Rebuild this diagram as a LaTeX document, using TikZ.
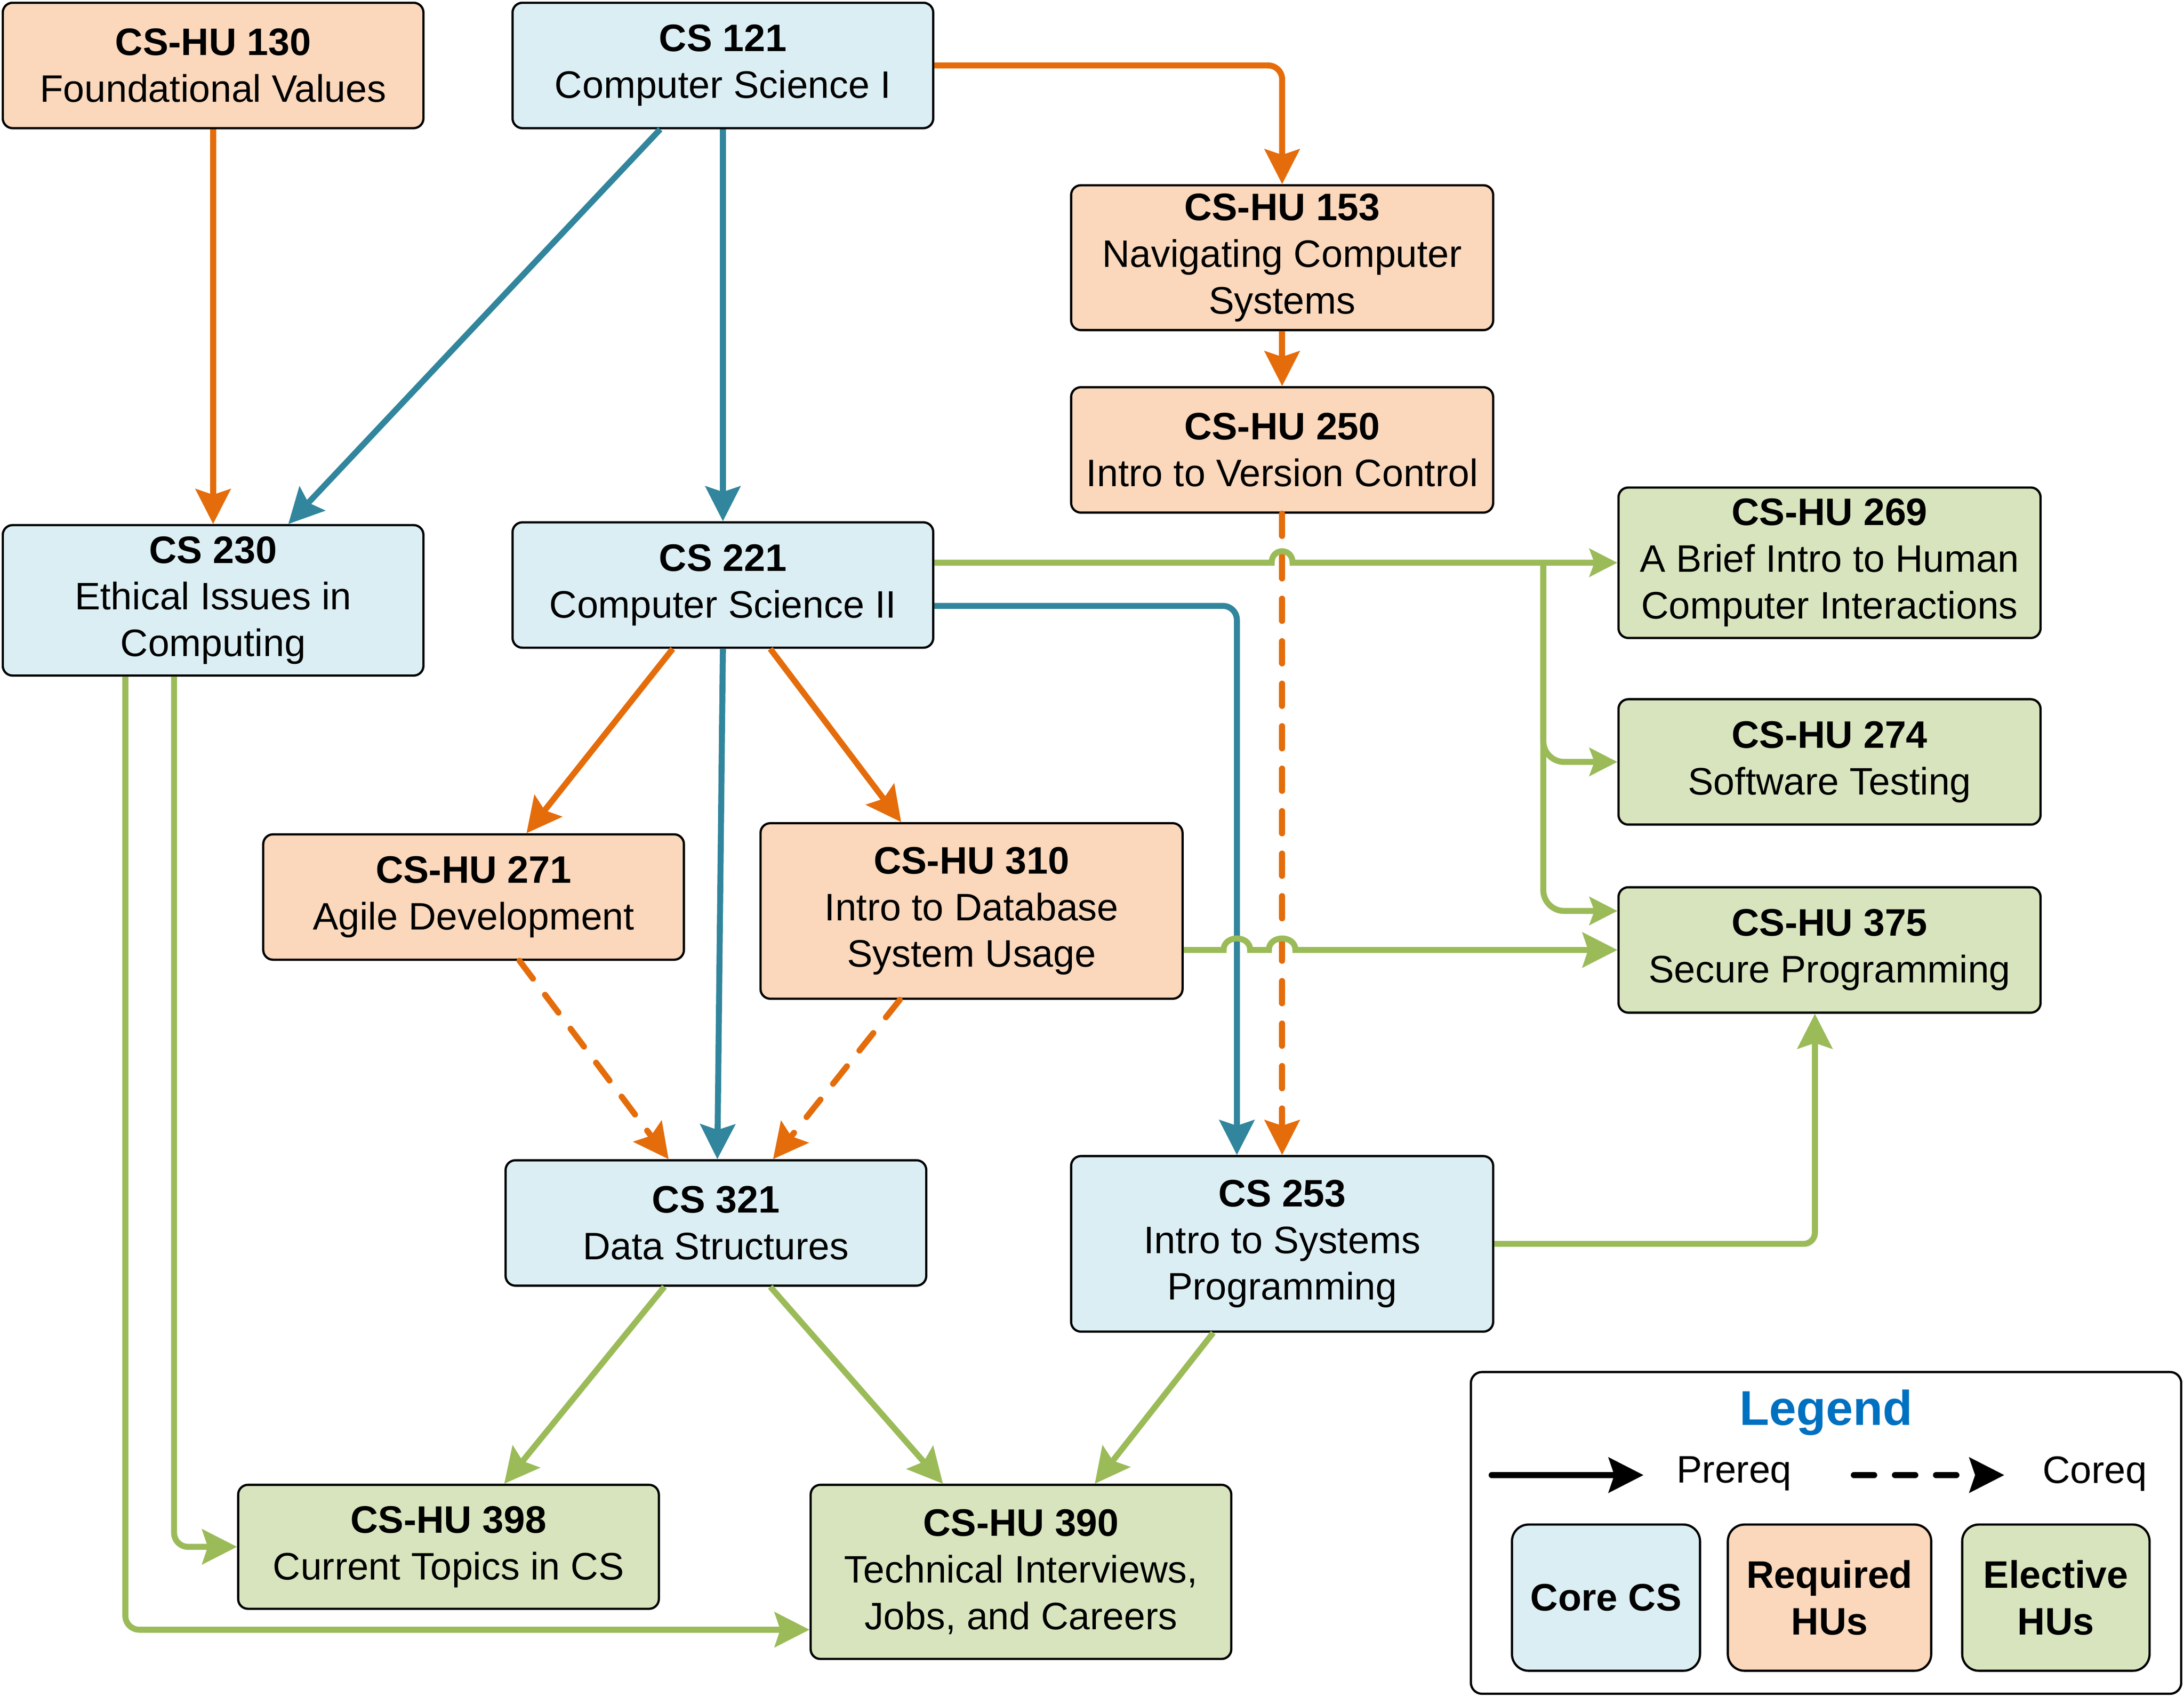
\documentclass[tikz,border=0pt]{standalone}
\usepackage{fontspec}
\setmainfont{Liberation Sans}
\usetikzlibrary{arrows.meta,calc}
\definecolor{corang}{HTML}{E46C0A}
\definecolor{cteal}{HTML}{31859C}
\definecolor{cgreen}{HTML}{9BBB59}
\definecolor{fblue}{HTML}{DBEEF4}
\definecolor{forange}{HTML}{FBD7BB}
\definecolor{fgreen}{HTML}{D7E4BD}
\definecolor{legblue}{HTML}{0070C0}
\tikzset{
  course/.style={draw=black, line width=1.6pt, rounded corners=7pt, align=center,
    inner sep=0pt, minimum width=302pt, minimum height=90pt},
  cbox/.style={course, fill=fblue},
  rbox/.style={course, fill=forange},
  ebox/.style={course, fill=fgreen},
  conn/.style={line width=4.3pt, -{Stealth[length=25pt,width=25pt,inset=4pt]}},
  connsmall/.style={line width=4.3pt, -{Stealth[length=20pt,width=20pt,inset=3.5pt]}},
  oline/.style={conn, draw=corang},
  tline/.style={conn, draw=cteal},
  gline/.style={conn, draw=cgreen},
  gsmall/.style={connsmall, draw=cgreen},
  coreqline/.style={oline, dash pattern=on 16pt off 14.5pt, line cap=round},
  legbox/.style={draw=black, line width=1.6pt, rounded corners=12pt, align=center,
    inner sep=0pt, minimum height=105pt, font=\fontsize{27.5pt}{33.5pt}\selectfont\bfseries}
}
\begin{document}
\begin{tikzpicture}[x=1pt, y=-1pt, font=\fontsize{27.5pt}{33.5pt}\selectfont]
\useasboundingbox (0,0) rectangle (1568,1218.2);

% nodes
\node[rbox] (h130) at (153,47) {\textbf{CS-HU 130}\\Foundational Values};
\node[cbox] (c121) at (519,47) {\textbf{CS 121}\\Computer Science I};
\node[rbox, minimum width=303pt, minimum height=104pt] (h153) at (920.5,185) {\textbf{CS-HU 153}\\Navigating Computer\\Systems};
\node[rbox, minimum width=303pt] (h250) at (920.5,323) {\textbf{CS-HU 250}\\Intro to Version Control};
\node[cbox, minimum height=108pt] (c230) at (153,431) {\textbf{CS 230}\\Ethical Issues in\\Computing};
\node[cbox] (c221) at (519,420) {\textbf{CS 221}\\Computer Science II};
\node[ebox, minimum width=303pt, minimum height=108pt] (h269) at (1313.5,404) {\textbf{CS-HU 269}\\A Brief Intro to Human\\Computer Interactions};
\node[ebox, minimum width=303pt] (h274) at (1313.5,547) {\textbf{CS-HU 274}\\Software Testing};
\node[rbox] (h271) at (340,644) {\textbf{CS-HU 271}\\Agile Development};
\node[rbox, minimum width=303pt, minimum height=126pt] (h310) at (697.5,654) {\textbf{CS-HU 310}\\Intro to Database\\System Usage};
\node[ebox, minimum width=303pt] (h375) at (1313.5,682) {\textbf{CS-HU 375}\\Secure Programming};
\node[cbox] (c321) at (514,878) {\textbf{CS 321}\\Data Structures};
\node[cbox, minimum width=303pt, minimum height=126pt] (c253) at (920.5,893) {\textbf{CS 253}\\Intro to Systems\\Programming};
\node[ebox, minimum height=89pt] (h398) at (322,1110.5) {\textbf{CS-HU 398}\\Current Topics in CS};
\node[ebox, minimum height=125pt] (h390) at (733,1128.5) {\textbf{CS-HU 390}\\Technical Interviews,\\Jobs, and Careers};

% orange prerequisites
\draw[oline] (h130.south) -- (c230.north);
\draw[oline, rounded corners=10pt] (c121.east) -| (h153.north);
\draw[oline] (h153.south) -- (h250.north);
\draw[oline] ($(c221.south)+(-36,0)$) -- ($(h271.north)+(38,0)$);
\draw[oline] ($(c221.south)+(34,0)$) -- ($(h310.north)+(-50.5,0)$);

% teal prerequisites
\draw[tline] ($(c121.south)+(-45,0)$) -- ($(c230.north)+(54,0)$);
\draw[tline] (c121.south) -- (c221.north);
\draw[tline] (c221.south) -- ($(c321.north)+(1,0)$);
\draw[tline, rounded corners=10pt] ($(c221.east)+(0,15)$) -| ($(c253.north)+(-32.5,0)$);

% coreqs
\draw[coreqline] (h250.south) -- (c253.north);
\draw[coreqline] ($(h271.south)+(33,0)$) -- ($(c321.north)+(-34,0)$);
\draw[coreqline] ($(h310.south)+(-51.5,0)$) -- ($(c321.north)+(41,0)$);

% green electives
\coordinate (br) at (1108,404);
\draw[gsmall] ($(c221.east)+(0,-16)$) -- (913,404)
  .. controls (913,393) and (928,393) .. (928,404) -- (h269.west);
\draw[gsmall, rounded corners=15pt] (br) |- (h274.west);
\draw[gsmall, rounded corners=15pt] (br) |- ($(h375.west)+(0,-28)$);
\draw[gline] ($(h310.east)+(0,28)$) -- (878.5,682)
  .. controls (878.5,671) and (897.5,671) .. (897.5,682) -- (911,682)
  .. controls (911,671) and (930,671) .. (930,682) -- (h375.west);
\draw[gline, rounded corners=8pt] (c253.east) -| ($(h375.south)+(-10.5,0)$);
\draw[gline, rounded corners=10pt] ($(c230.south)+(-28,0)$) |- (h398.west);
\draw[gline, rounded corners=10pt] ($(c230.south)+(-63,0)$) |- ($(h390.west)+(0,41.5)$);
\draw[gline] ($(c321.south)+(-37,0)$) -- ($(h398.north)+(40,0)$);
\draw[gline] ($(c321.south)+(39,0)$) -- ($(h390.north)+(-56,0)$);
\draw[gline] ($(c253.south)+(-49.5,0)$) -- ($(h390.north)+(53,0)$);

% legend
\node[draw=black, line width=1.6pt, rounded corners=8pt, minimum width=510pt,
  minimum height=231pt, inner sep=0pt] (leg) at (1311,1100.5) {};
\node[font=\fontsize{35pt}{40pt}\selectfont\bfseries, text=legblue] (legtitle) at (1311,1014) {Legend};
\coordinate (pa) at (1071,1059);
\coordinate (pb) at (1180,1059);
\coordinate (qa) at (1331,1059);
\coordinate (qb) at (1439,1059);
\draw[line width=4.5pt, line cap=round, -{Stealth[length=25pt,width=25pt,inset=4pt]}] (pa) -- (pb);
\draw[line width=4.5pt, line cap=round, dash pattern=on 14.5pt off 15pt, -{Stealth[length=25pt,width=25pt,inset=4pt]}] (qa) -- (qb);
\node (lpre) at (1245,1058) {Prereq};
\node (lco) at (1504,1058) {Coreq};
\node[legbox, fill=fblue, minimum width=135pt] (lcore) at (1153,1147) {Core CS};
\node[legbox, fill=forange, minimum width=146pt] (lreq) at (1313.5,1147) {Required\\HUs};
\node[legbox, fill=fgreen, minimum width=134.5pt] (lele) at (1476,1147) {Elective\\HUs};
\end{tikzpicture}
\end{document}
